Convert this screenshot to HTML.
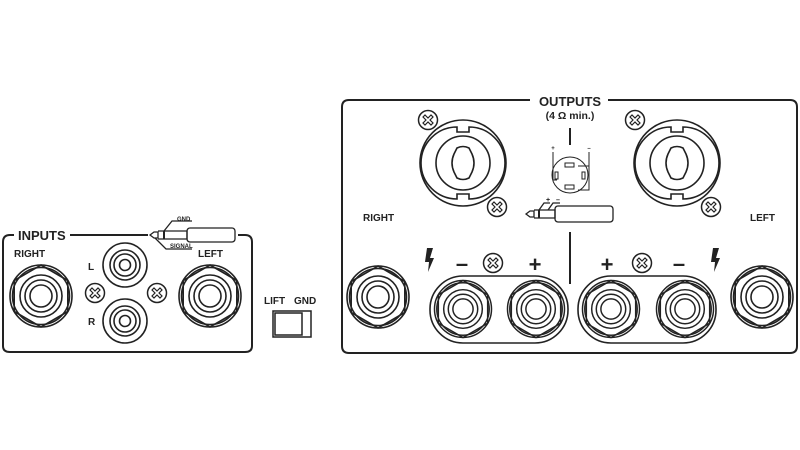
<!DOCTYPE html>
<html><head><meta charset="utf-8"><style>
html,body{margin:0;padding:0;background:#fff;width:800px;height:450px;overflow:hidden}
svg{display:block}
text{font-family:"Liberation Sans",sans-serif;font-weight:bold;fill:#222}
</style></head><body>
<svg width="800" height="450" viewBox="0 0 800 450" xmlns="http://www.w3.org/2000/svg">
<defs>
<g id="jack" fill="none" stroke="#222" stroke-width="1.6">
<circle r="31"/><circle r="28.5"/>
<polygon points="0,-31 26.8,-15.5 26.8,15.5 0,31 -26.8,15.5 -26.8,-15.5"/>
<circle r="21"/><circle r="16"/><circle r="11"/>
</g>
<g id="screw" fill="none" stroke="#222" stroke-width="1.5">
<circle r="9.5"/>
<path d="M-5,-3 L-3,-5 L0,-2 L3,-5 L5,-3 L2,0 L5,3 L3,5 L0,2 L-3,5 L-5,3 L-2,0 Z" stroke-width="1.2"/>
</g>
<g id="rca" fill="none" stroke="#222" stroke-width="1.6">
<circle r="22"/><circle r="15"/><circle r="11"/><circle r="5.5"/>
</g>
<g id="speakon" fill="none" stroke="#222" stroke-width="1.6">
<circle r="43"/>
<path d="M-6,-36 A36,36 0 0 0 -6,36 L-6,31 L6,31 L6,36 A36,36 0 0 0 6,-36 L6,-31 L-6,-31 Z"/>
<circle r="27"/>
<path d="M-6,-15 Q0,-18 6,-15 L9,-9 Q13,0 9,9 L6,15 Q0,18 -6,15 L-9,9 Q-13,0 -9,-9 Z"/>
</g>
<path id="bolt" d="M-3,-12 L3,-12 L0,-2 L4,-2 L-2,12 L-1,2 L-5,2 Z" fill="#222"/>
</defs>

<!-- INPUTS box -->
<path d="M14,235 H10 Q3,235 3,242 V346 Q3,352 10,352 H245 Q252,352 252,346 V242 Q252,235 245,235 H238 M70,235 H148" fill="none" stroke="#222" stroke-width="2"/>
<text x="18" y="240" font-size="13">INPUTS</text>
<g fill="none" stroke="#222" stroke-width="1.3">
<path d="M150,235 L154,232 L158,232 L158,238 L154,238 Z"/>
<path d="M158,231 H187 V239 H158"/>
<line x1="164" y1="231" x2="164" y2="239" stroke-width="2"/>
<rect x="187" y="228" width="48" height="14" rx="3"/>
<path d="M164,231 L172,221 H192"/>
<path d="M155,238 L166,249 H192"/>
</g>
<text x="177" y="221" font-size="6">GND</text>
<text x="170" y="248" font-size="6">SIGNAL</text>
<text x="14" y="257" font-size="10">RIGHT</text>
<text x="198" y="257" font-size="10">LEFT</text>
<text x="88" y="270" font-size="10">L</text>
<text x="88" y="325" font-size="10">R</text>
<use href="#jack" x="41" y="296"/>
<use href="#jack" x="210" y="296"/>
<use href="#rca" x="125" y="265"/>
<use href="#rca" x="125" y="321"/>
<use href="#screw" x="95" y="293"/>
<use href="#screw" x="157" y="293"/>
<text x="264" y="304" font-size="10">LIFT</text>
<text x="294" y="304" font-size="10">GND</text>
<rect x="273" y="311" width="38" height="26" fill="none" stroke="#222" stroke-width="1.5"/>
<rect x="275" y="313" width="27" height="22" fill="none" stroke="#222" stroke-width="1.5"/>

<!-- OUTPUTS box -->
<path d="M530,100 H349 Q342,100 342,107 V346 Q342,353 349,353 H790 Q797,353 797,346 V107 Q797,100 790,100 H608" fill="none" stroke="#222" stroke-width="2"/>
<text x="570" y="106" font-size="13" text-anchor="middle">OUTPUTS</text>
<text x="570" y="119" font-size="10.5" text-anchor="middle" font-weight="normal">(4 Ω min.)</text>
<use href="#speakon" x="463" y="163"/>
<use href="#speakon" x="677" y="163"/>
<use href="#screw" x="428" y="120"/>
<use href="#screw" x="497" y="207"/>
<use href="#screw" x="635" y="120"/>
<use href="#screw" x="711" y="207"/>
<line x1="570" y1="128" x2="570" y2="145" stroke="#222" stroke-width="2"/>
<line x1="570" y1="232" x2="570" y2="284" stroke="#222" stroke-width="2"/>
<g fill="none" stroke="#222" stroke-width="1">
<circle cx="570" cy="175" r="18"/>
<rect x="565" y="163" width="9" height="4"/><rect x="565" y="185" width="9" height="4"/>
<rect x="555" y="172" width="3" height="7"/><rect x="582" y="172" width="3" height="7"/>
<path d="M553,152 V180 H557 M589,152 V166 H578 M589,166 V190 H578"/>
</g>
<text x="553" y="150" font-size="6" text-anchor="middle">+</text>
<text x="589" y="150" font-size="6" text-anchor="middle">–</text>
<g fill="none" stroke="#222" stroke-width="1.3">
<path d="M526,214 L530,211 L534,211 L534,217 L530,217 Z"/>
<path d="M534,210 H555 V218 H534"/><line x1="539" y1="210" x2="539" y2="218" stroke-width="2"/>
<rect x="555" y="206" width="58" height="16" rx="3"/>
<path d="M539,210 L544,203 H550 M548,210 L553,203 H560"/>
</g>
<text x="546" y="202" font-size="7">+</text><text x="556" y="202" font-size="7">–</text>
<text x="363" y="221" font-size="10">RIGHT</text>
<text x="750" y="221" font-size="10">LEFT</text>
<use href="#jack" x="378" y="297"/>
<use href="#jack" x="762" y="297"/>
<rect x="430" y="276" width="138" height="67" rx="33" fill="none" stroke="#222" stroke-width="1.6"/>
<rect x="578" y="276" width="138" height="67" rx="33" fill="none" stroke="#222" stroke-width="1.6"/>
<use href="#jack" transform="translate(463,309) scale(0.92)"/>
<use href="#jack" transform="translate(536,309) scale(0.92)"/>
<use href="#jack" transform="translate(611,309) scale(0.92)"/>
<use href="#jack" transform="translate(685,309) scale(0.92)"/>
<use href="#bolt" x="430" y="260"/>
<use href="#bolt" x="716" y="260"/>
<text x="462" y="271" font-size="22" text-anchor="middle">–</text>
<use href="#screw" x="493" y="263"/>
<text x="535" y="272" font-size="22" text-anchor="middle">+</text>
<text x="607" y="272" font-size="22" text-anchor="middle">+</text>
<use href="#screw" x="642" y="263"/>
<text x="679" y="271" font-size="22" text-anchor="middle">–</text>
</svg>
</body></html>
